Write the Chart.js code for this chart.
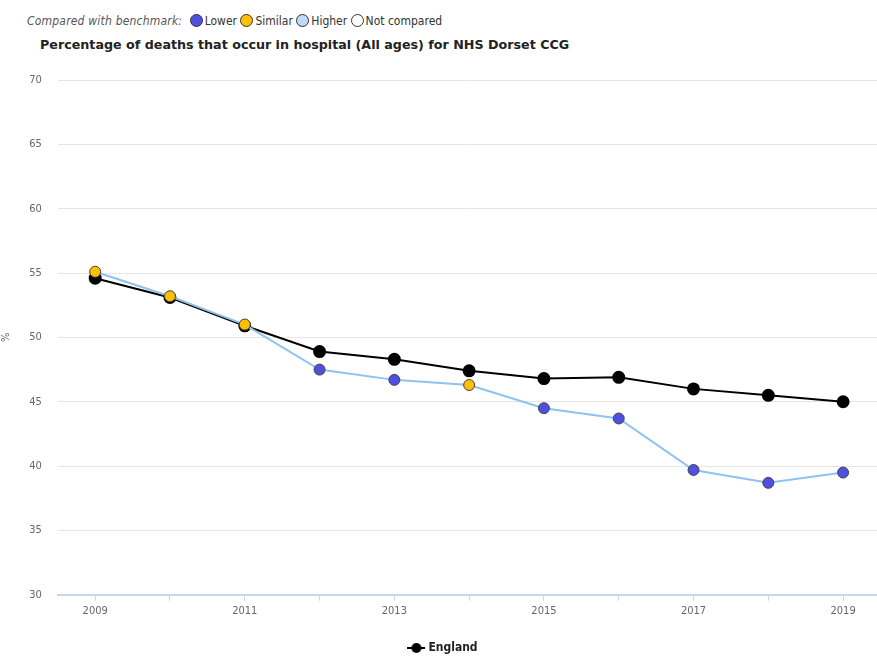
<!DOCTYPE html>
<html>
<head>
<meta charset="utf-8">
<script src="https://cdn.jsdelivr.net/npm/chart.js@4.4.0/dist/chart.umd.min.js"></script>
<style>
    html, body { margin: 0; padding: 0; background: #fff; overflow: hidden; width: 877px; height: 668px; }
    #wrap { position: absolute; left: 0; top: 0; width: 888px; height: 668px; }
    .key { position: absolute; left: 27px; top: 14px; font: 12px "DejaVu Sans Condensed", "DejaVu Sans", sans-serif; color: #333; white-space: nowrap; }
    .key i { color: #555; margin-right: 4px; letter-spacing: 0.2px; }
    .dot { display: inline-block; width: 11px; height: 11px; border-radius: 50%; border: 1px solid #333; vertical-align: -2px; margin-right: 2px; }
    .title { position: absolute; left: 40px; top: 37px; font: bold 12.7px "DejaVu Sans", sans-serif; color: #222; white-space: nowrap; }
</style>
</head>
<body>
<div class="key">
    <i>Compared with benchmark:</i>
    <span class="dot" style="background:#5050e0"></span>Lower
    <span class="dot" style="background:#ffc000"></span>Similar
    <span class="dot" style="background:#c2d8f6"></span>Higher
    <span class="dot" style="background:#fff"></span>Not compared
</div>
<div class="title">Percentage of deaths that occur in hospital (All ages) for NHS Dorset CCG</div>
<div id="wrap"><canvas id="chart" width="888" height="668"></canvas></div>
<script>
    // ─── Data ───
    const years = ['2009', '2010', '2011', '2012', '2013', '2014', '2015', '2016', '2017', '2018', '2019'];
    const englandValues = [54.6, 53.1, 50.9, 48.9, 48.3, 47.4, 46.8, 46.9, 46.0, 45.5, 45.0];
    const dorsetValues = [55.1, 53.2, 51.0, 47.5, 46.7, 46.3, 44.5, 43.7, 39.7, 38.7, 39.5];
    const dorsetBenchmark = ['Similar', 'Similar', 'Similar', 'Lower', 'Lower', 'Similar', 'Lower', 'Lower', 'Lower', 'Lower', 'Lower'];
    const yTicks = [30, 35, 40, 45, 50, 55, 60, 65, 70];

    const benchmarkColours = {
        Lower: '#5050e0',
        Similar: '#ffc000',
        Higher: '#c2d8f6',
        'Not compared': '#ffffff',
    };

    // legend symbol: short line with a dot on it
    function lineDotSymbol() {
        const c = document.createElement('canvas');
        c.width = 18; c.height = 12;
        const g = c.getContext('2d');
        g.strokeStyle = '#000';
        g.lineWidth = 2;
        g.beginPath(); g.moveTo(0, 6); g.lineTo(18, 6); g.stroke();
        g.fillStyle = '#000';
        g.beginPath(); g.arc(9, 6, 5, 0, Math.PI * 2); g.fill();
        return c;
    }

    const tickFont = { family: '"DejaVu Sans Condensed", "DejaVu Sans", sans-serif', size: 11 };

    new Chart(document.getElementById('chart'), {
        type: 'line',
        data: {
            labels: years,
            datasets: [
                {
                    label: 'NHS Dorset CCG',
                    data: dorsetValues,
                    borderColor: '#8ec2ef',
                    borderWidth: 2,
                    pointBackgroundColor: dorsetBenchmark.map(b => benchmarkColours[b]),
                    pointBorderColor: '#444',
                    pointBorderWidth: 1,
                    pointRadius: 5.5,
                    pointHoverRadius: 5.5,
                    tension: 0,
                    order: 0,
                },
                {
                    label: 'England',
                    data: englandValues,
                    borderColor: '#000',
                    borderWidth: 2,
                    pointBackgroundColor: '#000',
                    pointBorderColor: '#000',
                    pointRadius: 5.5,
                    pointHoverRadius: 5.5,
                    tension: 0,
                    order: 1,
                },
            ],
        },
        options: {
            responsive: false,
            animation: false,
            layout: { padding: { top: 80, right: 0, left: 0, bottom: 4 } },
            plugins: {
                title: { display: false },
                tooltip: { enabled: false },
                legend: {
                    position: 'bottom',
                    labels: {
                        filter: item => item.text === 'England',
                        usePointStyle: true,
                        generateLabels: chart => Chart.defaults.plugins.legend.labels.generateLabels(chart)
                            .map(l => Object.assign(l, { pointStyle: lineDotSymbol() })),
                        color: '#222',
                        font: { family: '"DejaVu Sans Condensed", "DejaVu Sans", sans-serif', size: 12, weight: 'bold' },
                        padding: 20,
                    },
                },
            },
            scales: {
                x: {
                    offset: true,
                    grid: {
                        drawOnChartArea: false,
                        drawTicks: true,
                        tickLength: 6,
                        tickColor: '#ccd6eb',
                        offset: false,
                    },
                    border: { color: '#ccd6eb', width: 2 },
                    ticks: {
                        autoSkip: false,
                        maxRotation: 0,
                        color: '#666',
                        font: tickFont,
                        padding: 4,
                        callback: (v, i) => (i % 2 === 0 ? years[i] : ''),
                    },
                },
                y: {
                    min: 30,
                    max: 70,
                    afterBuildTicks: axis => { axis.ticks = yTicks.map(v => ({ value: v })); },
                    grid: { color: '#e6e6e6', drawTicks: false },
                    border: { display: false },
                    ticks: { color: '#666', font: tickFont, padding: 16 },
                    title: { display: true, text: '%', color: '#666', font: tickFont, padding: 0 },
                },
            },
        },
    });
</script>
</body>
</html>
